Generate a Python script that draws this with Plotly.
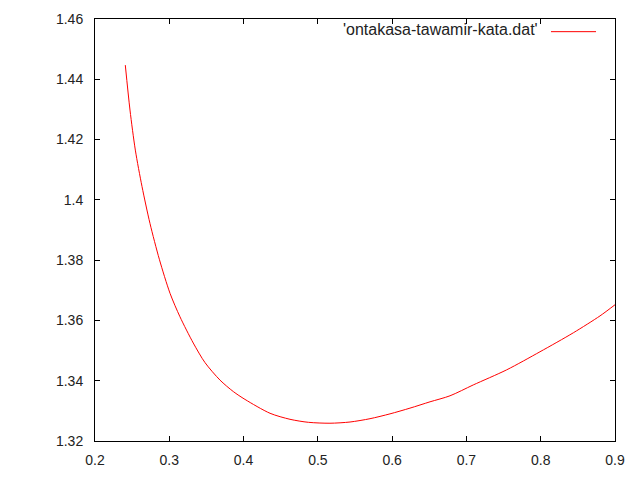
import plotly.graph_objects as go

series_name = "'ontakasa-tawamir-kata.dat'"
x_vals = [0.2408, 0.2471, 0.2543, 0.2633, 0.2740, 0.2866, 0.3010, 0.3144, 0.3323, 0.3481,
          0.3683, 0.3862, 0.4019, 0.4356, 0.4625, 0.4872, 0.5163, 0.5433, 0.5702, 0.5971,
          0.6240, 0.6510, 0.6779, 0.7092, 0.7541, 0.7990, 0.8439, 0.8798, 0.9000]
y_vals = [1.4447, 1.4298, 1.4165, 1.4044, 1.3922, 1.3803, 1.3690, 1.3612, 1.3525, 1.3460,
          1.3402, 1.3364, 1.3338, 1.3292, 1.3272, 1.3262, 1.3259, 1.3263, 1.3274, 1.3290,
          1.3309, 1.3330, 1.3350, 1.3386, 1.3436, 1.3496, 1.3559, 1.3615, 1.3652]
x_ticks = [0.2, 0.3, 0.4, 0.5, 0.6, 0.7, 0.8, 0.9]
x_ticktext = ["0.2", "0.3", "0.4", "0.5", "0.6", "0.7", "0.8", "0.9"]
y_ticks = [1.32, 1.34, 1.36, 1.38, 1.40, 1.42, 1.44, 1.46]
y_ticktext = ["1.32", "1.34", "1.36", "1.38", "1.4", "1.42", "1.44", "1.46"]

FONT = "Liberation Sans, Arial, sans-serif"

fig = go.Figure()
fig.add_trace(go.Scatter(x=x_vals, y=y_vals, mode="lines", name=series_name,
                         line=dict(color="#ff0000", width=1, shape="spline", smoothing=0.8),
                         showlegend=False))

axis_common = dict(showgrid=False, zeroline=False, showline=True, linecolor="black", linewidth=1,
                   mirror="ticks", ticks="inside", ticklen=5, tickcolor="black", tickwidth=1,
                   automargin=False,
                   tickfont=dict(family=FONT, size=14, color="#222222"))

fig.update_xaxes(range=[0.2, 0.9], tickvals=x_ticks, ticktext=x_ticktext,
                 ticklabelstandoff=6, **axis_common)
fig.update_yaxes(range=[1.32, 1.46], tickvals=y_ticks, ticktext=y_ticktext,
                 ticklabelstandoff=8, **axis_common)

fig.add_annotation(xref="paper", yref="paper", x=0.8558, y=0.974, xanchor="right", yanchor="middle",
                   text=series_name, showarrow=False,
                   font=dict(family=FONT, size=16, color="#222222"))
fig.add_shape(type="line", xref="paper", yref="paper", x0=0.8769, x1=0.9635, y0=0.970, y1=0.970,
              line=dict(color="#ff0000", width=1))

# page body has an 8px margin, so shrink the figure and its margins accordingly
fig.update_layout(width=632, height=472, margin=dict(l=87, r=25, t=11, b=39, pad=0),
                  plot_bgcolor="white", paper_bgcolor="white")

fig.write_html("out.html")
